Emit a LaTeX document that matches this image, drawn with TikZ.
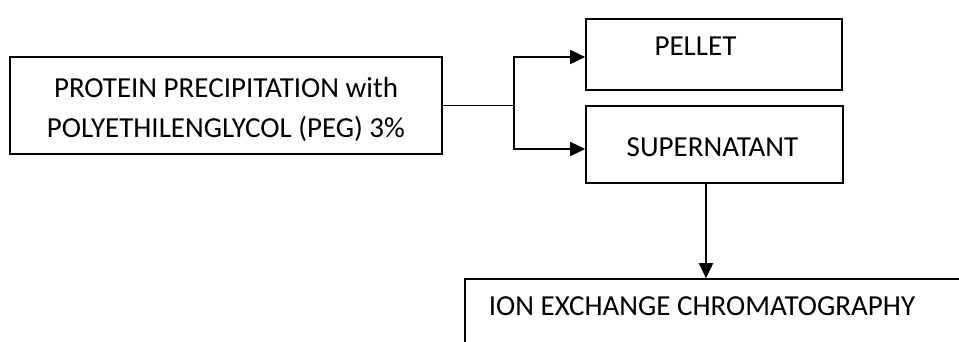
\documentclass[tikz,border=0pt]{standalone}
\usepackage{fontspec}
\setmainfont{Carlito}
\usetikzlibrary{arrows.meta}
\begin{document}
\begin{tikzpicture}[x=1pt,y=-1pt,
  box/.style={draw=black,line width=1.6pt,rectangle,inner sep=0pt},
  txt/.style={inner sep=0pt,font=\fontsize{29}{35.4}\selectfont},
  arr/.style={line width=1.6pt,-{Triangle[length=15pt,width=14pt]}},
  ln/.style={line width=1.6pt}]
\useasboundingbox (0,0) rectangle (959,341);
\clip (0,0) rectangle (959,341);
\node[box,minimum width=432pt,minimum height=97pt] (prot) at (226,105.5) {};
\node[txt,align=center,font=\fontsize{29}{40}\selectfont] (prottxt) at (226,109.5)
  {PROTEIN PRECIPITATION with\\POLYETHILENGLYCOL (PEG) 3\%};
\node[box,minimum width=256pt,minimum height=71pt] (pellet) at (714,54.5) {};
\node[txt,anchor=base] (pellettxt) at (695.5,55) {PELLET};
\node[box,minimum width=257pt,minimum height=77pt] (sup) at (714.5,144.5) {};
\node[txt,anchor=base] (suptxt) at (712.5,156) {SUPERNATANT};
\node[box,minimum width=520pt,minimum height=100pt] (ion) at (725,329) {};
\node[txt,anchor=base] (iontxt) at (702,315.5) {ION EXCHANGE CHROMATOGRAPHY};
\coordinate (j) at (514,106);
\coordinate (a) at (706,0);
\draw[ln] (prot.east) -- (prot.east -| j);
\draw[arr] (j) |- (pellet.west |- 0,57);
\draw[arr] (j) |- (sup.west |- 0,149);
\draw[arr] (sup.south -| a) -- (ion.north -| a);
\end{tikzpicture}
\end{document}
